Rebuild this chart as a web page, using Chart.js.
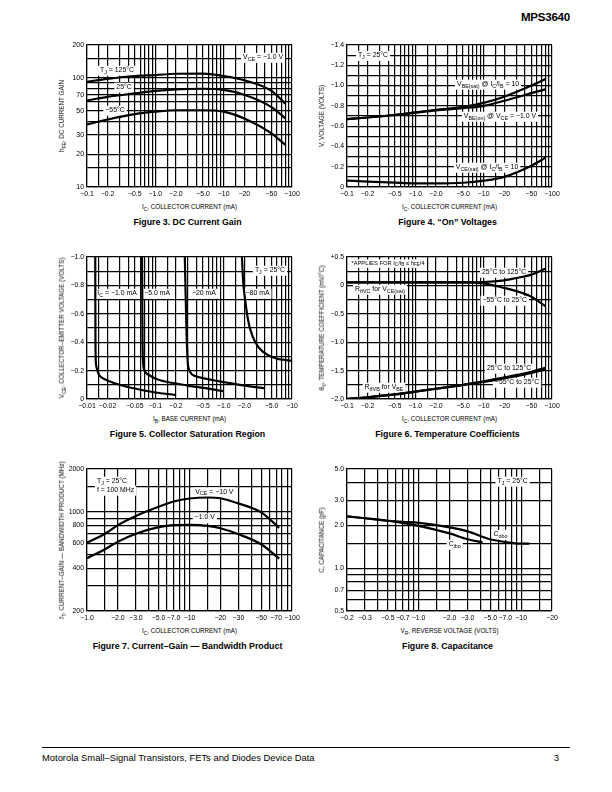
<!DOCTYPE html>
<html>
<head>
<meta charset="utf-8">
<script src="https://cdn.jsdelivr.net/npm/chart.js@4.4.1/dist/chart.umd.min.js"></script>
<style>
body { margin: 0; background: #fff; font-family: "Liberation Sans", Arial, Helvetica, sans-serif; color: #000; }
#page { position: relative; width: 612px; height: 792px; overflow: hidden; background: #fff; }
canvas { position: absolute; }
.t { position: absolute; white-space: nowrap; transform: translate(-50%, -50%); font-size: 6.3px; line-height: 1; }
.t sub { font-size: 78%; vertical-align: -0.35em; line-height: 0; }
.yt { transform: translate(-50%, -50%) rotate(-90deg); }
.cap { position: absolute; white-space: nowrap; transform: translate(-50%, -50%); font-weight: bold; font-size: 8.8px; line-height: 1; }
#hdr { position: absolute; right: 42px; top: 11px; font-weight: bold; font-size: 11.5px; letter-spacing: -0.2px; }
#rule { position: absolute; left: 42px; top: 747px; width: 528px; border-top: 1.4px solid #000; }
#foot { position: absolute; left: 42px; top: 752px; font-size: 9.4px; }
#pg { position: absolute; right: 53px; top: 752px; font-size: 9.4px; }
</style>
</head>
<body>
<div id="page">
  <div id="hdr">MPS3640</div>
  <div id="rule"></div>
  <div id="foot">Motorola Small–Signal Transistors, FETs and Diodes Device Data</div>
  <div id="pg">3</div>
</div>
<script>
// Figure 3 - DC current gain (IC in mA, magnitude)
const f3Current = [0.1, 0.2, 0.5, 1, 2, 5, 10, 20, 50, 80];
const f3Gain125 = [92, 98, 104, 106, 109, 109.5, 104, 95, 76, 58];
const f3Gain25 = [62, 67, 72, 76, 78.5, 79.5, 77.5, 70, 54, 42.5];
const f3GainM55 = [37.5, 41.5, 46.5, 49, 50.5, 50.5, 49, 42.5, 31, 24.3];

// Figure 4 - "On" voltages (volts, magnitude)
const f4Current = [0.1, 0.2, 0.5, 1, 2, 5, 10, 20, 50, 80];
const f4VbeSat = [0.67, 0.685, 0.71, 0.735, 0.76, 0.79, 0.83, 0.89, 1.0, 1.065];
const f4VbeOn = [0.67, 0.685, 0.71, 0.733, 0.755, 0.777, 0.80, 0.85, 0.925, 0.963];
const f4VceSat = [0.063, 0.053, 0.043, 0.036, 0.035, 0.042, 0.062, 0.10, 0.21, 0.288];

// Figure 5 - collector saturation region (IB mA, VCE volts, magnitude)
const f5Ib1 = [0.0132, 0.0133, 0.0135, 0.0142, 0.0155, 0.0195, 0.030, 0.052, 0.10, 0.20];
const f5Vce1 = [1.0, 0.40, 0.25, 0.20, 0.16, 0.132, 0.10, 0.072, 0.046, 0.029];
const f5Ib5 = [0.064, 0.065, 0.066, 0.068, 0.075, 0.117, 0.286, 0.70, 1.0];
const f5Vce5 = [1.0, 0.40, 0.27, 0.21, 0.178, 0.132, 0.096, 0.068, 0.054];
const f5Ib20 = [0.27, 0.285, 0.295, 0.305, 0.358, 0.70, 1.73, 4.0];
const f5Vce20 = [1.0, 0.50, 0.30, 0.22, 0.167, 0.132, 0.10, 0.075];
const f5Ib80 = [1.85, 1.95, 2.2, 2.45, 2.9, 3.8, 5.9, 10];
const f5Vce80 = [1.0, 0.80, 0.60, 0.49, 0.40, 0.33, 0.285, 0.268];

// Figure 6 - temperature coefficients (mV/°C)
const f6Current = [0.1, 0.2, 0.5, 1, 2, 5, 10, 20, 30, 50, 80];
const f6VcHot = [0.055, 0.055, 0.055, 0.055, 0.055, 0.055, 0.06, 0.09, 0.13, 0.19, 0.295];
const f6VcCold = [0.055, 0.055, 0.055, 0.055, 0.055, 0.055, 0.035, -0.045, -0.10, -0.20, -0.365];
const f6VbHot = [-2.0, -1.97, -1.92, -1.87, -1.82, -1.75, -1.69, -1.62, -1.58, -1.52, -1.45];
const f6VbCold = [-2.0, -1.97, -1.92, -1.87, -1.82, -1.75, -1.70, -1.635, -1.60, -1.54, -1.48];

// Figure 7 - current-gain bandwidth product (MHz)
const f7Current = [1, 1.5, 2, 3, 5, 7, 10, 15, 20, 30, 50, 75];
const f7Ft10 = [605, 700, 805, 935, 1085, 1180, 1240, 1260, 1245, 1145, 990, 770];
const f7Ft1 = [470, 545, 615, 700, 780, 805, 808, 795, 765, 695, 590, 468];

// Figure 8 - capacitance (pF) vs reverse voltage magnitude
const f8ObVolts = [0.2, 0.3, 0.5, 0.7, 1.0, 2.0, 3.0, 5.0, 7.0, 10, 12];
const f8Cobo = [2.32, 2.25, 2.16, 2.12, 2.09, 1.94, 1.82, 1.60, 1.53, 1.49, 1.49];
const f8IbVolts = [0.2, 0.3, 0.5, 0.7, 1.0, 2.0, 3.0, 4.2];
const f8Cibo = [2.32, 2.25, 2.16, 2.08, 1.99, 1.76, 1.60, 1.52];

// tick labels
const ic3Ticks = [0.1, 0.2, 0.5, 1, 2, 5, 10, 20, 50, 100];
const ic3Labels = ['−0.1', '−0.2', '−0.5', '−1.0', '−2.0', '−5.0', '−10', '−20', '−50', '−100'];
const gainTicks = [10, 20, 30, 50, 70, 100, 200];
const gainLabels = ['10', '20', '30', '50', '70', '100', '200'];
const voltTicks = [0, 0.2, 0.4, 0.6, 0.8, 1.0, 1.2, 1.4];
const voltLabels = ['0', '−0.2', '−0.4', '−0.6', '−0.8', '−1.0', '−1.2', '−1.4'];
const ibTicks = [0.01, 0.02, 0.05, 0.1, 0.2, 0.5, 1, 2, 5, 10];
const ibLabels = ['−0.01', '−0.02', '−0.05', '−0.1', '−0.2', '−0.5', '−1.0', '−2.0', '−5.0', '−10'];
const vceTicks = [0, 0.2, 0.4, 0.6, 0.8, 1.0];
const vceLabels = ['0', '−0.2', '−0.4', '−0.6', '−0.8', '−1.0'];
const coefTicks = [-2.0, -1.5, -1.0, -0.5, 0, 0.5];
const coefLabels = ['−2.0', '−1.5', '−1.0', '−0.5', '0', '+0.5'];
const ic7Ticks = [1, 2, 3, 5, 7, 10, 20, 30, 50, 70, 100];
const ic7Labels = ['−1.0', '−2.0', '−3.0', '−5.0', '−7.0', '−10', '−20', '−30', '−50', '−70', '−100'];
const ftTicks = [200, 400, 600, 800, 1000, 2000];
const ftLabels = ['200', '400', '600', '800', '1000', '2000'];
const vrTicks = [0.2, 0.3, 0.5, 0.7, 1, 2, 3, 5, 7, 10, 20];
const vrLabels = ['−0.2', '−0.3', '−0.5', '−0.7', '−1.0', '−2.0', '−3.0', '−5.0', '−7.0', '−10', '−20'];
const capTicks = [0.5, 0.7, 1.0, 2.0, 3.0, 5.0];
const capLabels = ['0.5', '0.7', '1.0', '2.0', '3.0', '5.0'];

const FONT = '"Liberation Sans", Arial, Helvetica, sans-serif';
Chart.defaults.font.family = FONT;
Chart.defaults.color = '#000';

function logGrid(min, max) {
  const out = [];
  for (let e = Math.floor(Math.log10(min)); e <= Math.ceil(Math.log10(max)); e++) {
    for (const m of [1, 1.5, 2, 3, 4, 5, 6, 7, 8, 9]) {
      const v = +(m * Math.pow(10, e)).toPrecision(6);
      if (v >= min * 0.999 && v <= max * 1.001) out.push(v);
    }
  }
  return out;
}
function linGrid(min, max, step) {
  const out = [];
  for (let v = min; v <= max + 1e-9; v += step) out.push(+v.toFixed(4));
  return out;
}

function axis(type, min, max, grid, vals, text, pos) {
  return {
    type, min, max, position: pos,
    afterBuildTicks: s => { s.ticks = grid.map(v => ({ value: v })); },
    afterFit: s => { if (pos === 'left') s.width = 40; else s.height = 14; },
    grid: { color: '#000', lineWidth: 1.2, drawTicks: false },
    border: { color: '#000', width: 1.2 },
    ticks: {
      autoSkip: false, maxRotation: 0, minRotation: 0, padding: 3, color: '#000',
      font: { size: 6.9 },
      callback: v => {
        const i = vals.findIndex(t => Math.abs(t - v) < Math.abs(t) * 1e-6 + 1e-9);
        return i < 0 ? '' : text[i];
      }
    }
  };
}

function parts(str) {
  const out = [], re = /_\{([^}]*)\}/g;
  let last = 0, m;
  while ((m = re.exec(str))) {
    if (m.index > last) out.push([str.slice(last, m.index), false]);
    out.push([m[1], true]);
    last = re.lastIndex;
  }
  if (last < str.length) out.push([str.slice(last), false]);
  return out;
}

const NOTES = {};
const notesPlugin = {
  id: 'notes',
  beforeDatasetsDraw(chart) {
    const ctx = chart.ctx, xs = chart.scales.x, ys = chart.scales.y;
    (NOTES[chart.canvas.id] || []).forEach(n => {
      const size = n.size || 6.9, sub = size * 0.78;
      const ps = parts(n.t);
      let w = 0;
      ps.forEach(p => { ctx.font = (p[1] ? sub : size) + 'px ' + FONT; w += ctx.measureText(p[0]).width; });
      const px = xs.getPixelForValue(n.x), py = ys.getPixelForValue(n.y);
      const x0 = n.align === 'left' ? px : px - w / 2;
      ctx.save();
      ctx.fillStyle = '#fff';
      ctx.fillRect(x0 - 2, py - size * 0.62, w + 4, size * 1.45);
      ctx.fillStyle = '#000';
      ctx.textBaseline = 'middle';
      ctx.textAlign = 'left';
      let cx = x0;
      ps.forEach(p => {
        ctx.font = (p[1] ? sub : size) + 'px ' + FONT;
        ctx.fillText(p[0], cx, p[1] ? py + size * 0.32 : py);
        cx += ctx.measureText(p[0]).width;
      });
      ctx.restore();
    });
  }
};

const page = document.getElementById('page');
function place(html, x, y, cls) {
  const d = document.createElement('div');
  d.className = cls;
  d.innerHTML = html.replace(/_\{([^}]*)\}/g, '<sub>$1</sub>');
  d.style.left = x + 'px';
  d.style.top = y + 'px';
  page.appendChild(d);
}

function figure(id, r, opt) {
  const c = document.createElement('canvas');
  c.id = id;
  c.width = r.R - r.L + 52;
  c.height = r.B - r.T + 22;
  c.style.left = (r.L - 40) + 'px';
  c.style.top = (r.T - 8) + 'px';
  page.appendChild(c);
  NOTES[id] = opt.notes;
  new Chart(c, {
    type: 'line',
    data: {
      datasets: opt.series.map(s => ({
        data: s[0].map((x, i) => ({ x, y: s[1][i] })),
        borderColor: '#000', borderWidth: 2.2, pointRadius: 0, fill: false,
        tension: opt.tension, cubicInterpolationMode: opt.mono ? 'monotone' : 'default'
      }))
    },
    options: {
      responsive: false, animation: false, devicePixelRatio: 1,
      layout: { padding: { left: 0, top: 8, right: 12, bottom: 0 } },
      plugins: { legend: { display: false }, tooltip: { enabled: false } },
      scales: { x: opt.x, y: opt.y }
    },
    plugins: [notesPlugin]
  });
  place(opt.xTitle, (r.L + r.R) / 2, r.B + 19.5, 't');
  place(opt.yTitle, r.L - 25, (r.T + r.B) / 2, 't yt');
  place(opt.caption, (r.L + r.R) / 2 - 2, r.B + 35, 'cap');
}

figure('fig3', { L: 87, T: 45, R: 292, B: 187 }, {
  x: axis('logarithmic', 0.1, 100, logGrid(0.1, 100), ic3Ticks, ic3Labels, 'bottom'),
  y: axis('logarithmic', 10, 200, logGrid(10, 200), gainTicks, gainLabels, 'left'),
  series: [[f3Current, f3Gain125], [f3Current, f3Gain25], [f3Current, f3GainM55]],
  mono: true, tension: 0.4,
  notes: [
    { x: 37.7, y: 155, t: 'V_{CE} = −1.0 V' },
    { x: 0.275, y: 118, t: 'T_{J} = 125°C' },
    { x: 0.348, y: 82.6, t: '25°C' },
    { x: 0.257, y: 50.8, t: '−55°C' }
  ],
  xTitle: 'I_{C}, COLLECTOR CURRENT (mA)', yTitle: 'h_{FE}, DC CURRENT GAIN',
  caption: 'Figure 3. DC Current Gain'
});

figure('fig4', { L: 347, T: 45, R: 552, B: 187 }, {
  x: axis('logarithmic', 0.1, 100, logGrid(0.1, 100), ic3Ticks, ic3Labels, 'bottom'),
  y: axis('linear', 0, 1.4, linGrid(0, 1.4, 0.1), voltTicks, voltLabels, 'left'),
  series: [[f4Current, f4VbeSat], [f4Current, f4VbeOn], [f4Current, f4VceSat]],
  mono: true, tension: 0.4,
  notes: [
    { x: 0.24, y: 1.30, t: 'T_{J} = 25°C' },
    { x: 11.6, y: 1.016, t: 'V_{BE(sat)} @ I_{C}/I_{B} = 10' },
    { x: 17.3, y: 0.70, t: 'V_{BE(on)} @ V_{CE} = −1.0 V' },
    { x: 11.2, y: 0.197, t: 'V_{CE(sat)} @ I_{C}/I_{B} = 10' }
  ],
  xTitle: 'I_{C}, COLLECTOR CURRENT (mA)', yTitle: 'V, VOLTAGE (VOLTS)',
  caption: 'Figure 4. “On” Voltages'
});

figure('fig5', { L: 87, T: 257, R: 292, B: 399 }, {
  x: axis('logarithmic', 0.01, 10, logGrid(0.01, 10), ibTicks, ibLabels, 'bottom'),
  y: axis('linear', 0, 1.0, linGrid(0, 1.0, 0.1), vceTicks, vceLabels, 'left'),
  series: [[f5Ib1, f5Vce1], [f5Ib5, f5Vce5], [f5Ib20, f5Vce20], [f5Ib80, f5Vce80]],
  mono: false, tension: 0.25,
  notes: [
    { x: 0.0275, y: 0.746, t: 'I_{C} = −1.0 mA' },
    { x: 0.106, y: 0.746, t: '−5.0 mA' },
    { x: 0.515, y: 0.746, t: '−20 mA' },
    { x: 3.13, y: 0.746, t: '−80 mA' },
    { x: 4.76, y: 0.908, t: 'T_{J} = 25°C' }
  ],
  xTitle: 'I_{B}, BASE CURRENT (mA)', yTitle: 'V_{CE}, COLLECTOR–EMITTER VOLTAGE (VOLTS)',
  caption: 'Figure 5. Collector Saturation Region'
});

figure('fig6', { L: 347, T: 257, R: 552, B: 399 }, {
  x: axis('logarithmic', 0.1, 100, logGrid(0.1, 100), ic3Ticks, ic3Labels, 'bottom'),
  y: axis('linear', -2.0, 0.5, linGrid(-2.0, 0.5, 0.25), coefTicks, coefLabels, 'left'),
  series: [[f6Current, f6VcHot], [f6Current, f6VcCold], [f6Current, f6VbHot], [f6Current, f6VbCold]],
  mono: true, tension: 0.4,
  notes: [
    { x: 0.398, y: 0.394, t: '*APPLIES FOR I_{C}/I_{B} ≤ h_{FE}/4', size: 5.8 },
    { x: 19.9, y: 0.236, t: '25°C to 125°C' },
    { x: 0.304, y: -0.063, t: 'R_{θVC} for V_{CE(sat)}' },
    { x: 20.3, y: -0.257, t: '−55°C to 25°C' },
    { x: 23.5, y: -1.454, t: '25°C to 125°C' },
    { x: 30.8, y: -1.70, t: '−55°C to 25°C' },
    { x: 0.348, y: -1.789, t: 'R_{θVB} for V_{BE}' }
  ],
  xTitle: 'I_{C}, COLLECTOR CURRENT (mA)', yTitle: 'θ_{V}, TEMPERATURE COEFFICIENT (mV/°C)',
  caption: 'Figure 6. Temperature Coefficients'
});

figure('fig7', { L: 87, T: 469, R: 292, B: 611 }, {
  x: axis('logarithmic', 1, 100, logGrid(1, 100), ic7Ticks, ic7Labels, 'bottom'),
  y: axis('logarithmic', 200, 2000, logGrid(200, 2000), ftTicks, ftLabels, 'left'),
  series: [[f7Current, f7Ft10], [f7Current, f7Ft1]],
  mono: true, tension: 0.4,
  notes: [
    { x: 1.25, y: 1647, t: 'T_{J} = 25°C', align: 'left' },
    { x: 1.25, y: 1423, t: 'f = 100 MHz', align: 'left' },
    { x: 17.5, y: 1385, t: 'V_{CE} = −10 V' },
    { x: 14.1, y: 910, t: '−1.0 V' }
  ],
  xTitle: 'I_{C}, COLLECTOR CURRENT (mA)', yTitle: 'f_{T}, CURRENT–GAIN — BANDWIDTH PRODUCT (MHz)',
  caption: 'Figure 7. Current–Gain — Bandwidth Product'
});

figure('fig8', { L: 347, T: 469, R: 552, B: 611 }, {
  x: axis('logarithmic', 0.2, 20, logGrid(0.2, 20), vrTicks, vrLabels, 'bottom'),
  y: axis('logarithmic', 0.5, 5.0, logGrid(0.5, 5.0), capTicks, capLabels, 'left'),
  series: [[f8ObVolts, f8Cobo], [f8IbVolts, f8Cibo]],
  mono: true, tension: 0.4,
  notes: [
    { x: 6.3, y: 1.74, t: 'C_{obo}' },
    { x: 2.25, y: 1.48, t: 'C_{ibo}' },
    { x: 8.26, y: 4.12, t: 'T_{J} = 25°C' }
  ],
  xTitle: 'V_{R}, REVERSE VOLTAGE (VOLTS)', yTitle: 'C, CAPACITANCE (pF)',
  caption: 'Figure 8. Capacitance'
});
</script>
</body>
</html>
